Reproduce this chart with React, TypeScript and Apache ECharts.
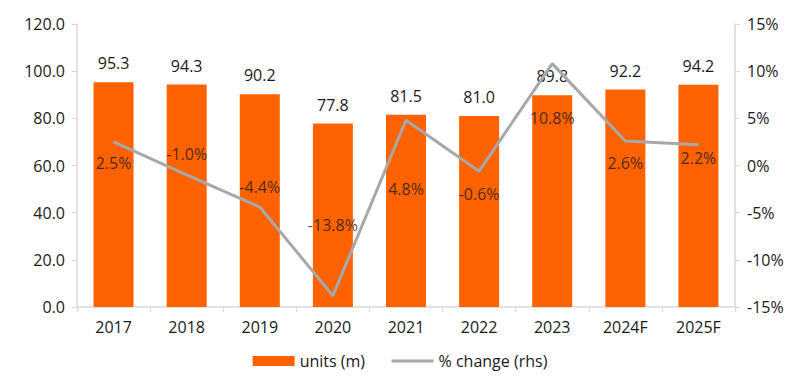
import React, { useEffect, useRef } from "react";
import * as echarts from "echarts";

const categories = ["2017", "2018", "2019", "2020", "2021", "2022", "2023", "2024F", "2025F"];
const units = [95.3, 94.3, 90.2, 77.8, 81.5, 81.0, 89.8, 92.2, 94.2];
const pctChange = [2.5, -1.0, -4.4, -13.8, 4.8, -0.6, 10.8, 2.6, 2.2];
const pctLabelPos = ["bottom", "top", "top", "top", "bottom", "bottom", "bottom", "bottom", "bottom"];
const pctLabelDist = [13, 12, 12, 62, 60, 14, 46, 14, 5];

export default function App() {
  const ref = useRef<HTMLDivElement>(null);
  useEffect(() => {
    const chart = echarts.init(ref.current!, null, { renderer: "svg" });
    const font = "'Open Sans', sans-serif";
    const fs = 16;
    const txt = "#1a1a1a";
    const axisLineColor = "#D9D9D9";
    chart.setOption({
      animation: false,
      textStyle: { fontFamily: font },
      grid: { left: 77, right: 65, top: 24, bottom: 72 },
      legend: {
        bottom: 5,
        left: "center",
        itemWidth: 42,
        itemHeight: 10,
        itemGap: 25,
        textStyle: { fontSize: fs, color: txt, fontFamily: font },
        data: [
          { name: "units (m)", icon: "rect" },
          { name: "% change (rhs)", itemStyle: { opacity: 0 }, lineStyle: { width: 3, color: "#A8A8A8" } },
        ],
      },
      xAxis: {
        type: "category",
        data: categories,
        axisLine: { lineStyle: { color: axisLineColor, width: 1.5 } },
        axisTick: { show: true, length: 5, lineStyle: { color: axisLineColor } },
        axisLabel: { color: txt, fontSize: fs, margin: 12, fontFamily: font },
      },
      yAxis: [
        {
          type: "value",
          min: 0,
          max: 120,
          interval: 20,
          axisLine: { show: true, lineStyle: { color: axisLineColor, width: 1.5 } },
          axisTick: { show: true, length: 5, lineStyle: { color: axisLineColor } },
          splitLine: { show: false },
          axisLabel: {
            color: txt,
            fontSize: fs,
            margin: 12,
            fontFamily: font,
            formatter: (v: number) => v.toFixed(1),
          },
        },
        {
          type: "value",
          min: -15,
          max: 15,
          interval: 5,
          position: "right",
          axisLine: { show: true, lineStyle: { color: axisLineColor, width: 1.5 } },
          axisTick: { show: true, length: 5, lineStyle: { color: axisLineColor } },
          splitLine: { show: false },
          axisLabel: {
            color: txt,
            fontSize: fs,
            margin: 12,
            fontFamily: font,
            formatter: (v: number) => `${v}%`,
          },
        },
      ],
      series: [
        {
          name: "units (m)",
          type: "bar",
          data: units,
          barWidth: 40,
          itemStyle: { color: "#FF6200" },
          label: {
            show: true,
            position: "top",
            distance: 11,
            color: txt,
            fontSize: fs,
            fontFamily: font,
            formatter: (p: any) => Number(p.value).toFixed(1),
          },
        },
        {
          name: "% change (rhs)",
          type: "line",
          yAxisIndex: 1,
          symbol: "none",
          lineStyle: { color: "#A8A8A8", width: 3 },
          itemStyle: { color: "#A8A8A8" },
          data: pctChange,
        },
        {
          name: "pct labels",
          type: "scatter",
          yAxisIndex: 1,
          symbolSize: 1,
          itemStyle: { color: "rgba(0,0,0,0)" },
          z: 5,
          data: pctChange.map((v, i) => ({
            value: v,
            label: {
              show: true,
              position: pctLabelPos[i],
              distance: pctLabelDist[i],
              color: txt,
              fontSize: fs,
              fontFamily: font,
              formatter: () => `${v.toFixed(1)}%`,
            },
          })),
        },
      ],
    });
    return () => chart.dispose();
  }, []);
  return <div ref={ref} style={{ position: "absolute", left: 0, top: 0, width: 800, height: 379 }} />;
}
